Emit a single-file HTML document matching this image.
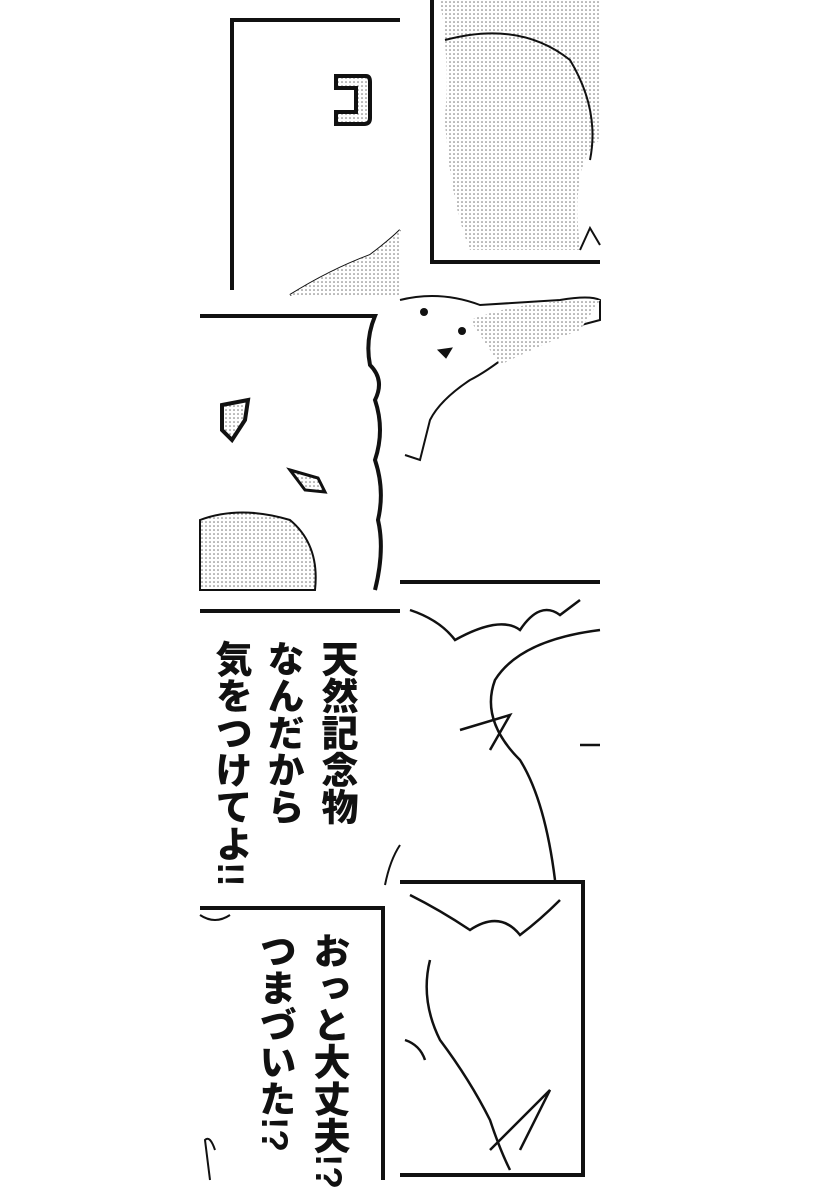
<!DOCTYPE html>
<html><head><meta charset="utf-8"><style>
html,body{margin:0;padding:0;background:#fff}
body{width:820px;height:1200px;position:relative;overflow:hidden}
svg{position:absolute;left:0;top:0}
.v{position:absolute;writing-mode:vertical-rl;font-family:"Liberation Sans","Noto Sans CJK JP",sans-serif;font-weight:900;font-size:37px;line-height:1;color:#111;letter-spacing:0px}
</style></head><body>
<svg width="820" height="1200" viewBox="0 0 820 1200">
<defs>
<pattern id="dot" width="4" height="4" patternUnits="userSpaceOnUse"><rect width="4" height="4" fill="#fff"/><circle cx="2" cy="2" r="0.75" fill="#666"/></pattern>
</defs>
<g fill="none" stroke="#111" stroke-width="4">
<!-- row1 left -->
<path d="M400 20 L232 20 L232 290"/>
<path d="M290 295 Q330 270 370 255 Q390 240 400 230" stroke-width="2"/>
<path d="M290 295 Q330 270 370 255 Q390 240 400 230 L400 295 Z" fill="url(#dot)" stroke="none"/>
<path d="M336 76 L366 76 Q370 76 370 82 L370 118 Q370 124 364 124 L336 124 L336 112 L356 112 L356 88 L336 88 Z" fill="url(#dot)" stroke-width="4"/>
<!-- row1 right -->
<path d="M432 0 L432 262 L600 262"/>
<path d="M440 0 Q450 60 445 120 Q450 200 470 250 L580 250 Q570 160 600 140 L600 0 Z" fill="url(#dot)" stroke="none"/>
<path d="M445 40 Q520 20 570 60 Q600 110 590 160" stroke-width="2"/>
<path d="M580 250 L590 228 L600 245" stroke-width="2"/>
<!-- row2 left -->
<path d="M200 316 L375 316 Q365 340 370 365 Q385 380 375 400 Q385 430 375 460 Q385 490 378 520 Q385 550 375 590"/>
<path d="M200 520 Q240 505 290 520 Q320 545 315 590 L200 590 Z" fill="url(#dot)" stroke-width="2"/>
<path d="M222 405 L248 400 L245 420 L232 440 L222 430 Z" fill="url(#dot)" stroke-width="4"/>
<path d="M290 470 L318 478 L325 492 L305 490 Z" fill="url(#dot)" stroke-width="3"/>
<!-- row2 right -->
<path d="M400 300 Q440 290 480 305 L560 300 Q590 295 600 300 L600 320 Q560 330 520 345 Q490 370 470 380 Q440 400 430 420 L420 460 L405 455" stroke-width="2"/>
<path d="M470 320 Q520 300 600 300 L580 330 Q540 345 500 365 Z" fill="url(#dot)" stroke="none"/>
<circle cx="424" cy="312" r="4" fill="#111" stroke="none"/>
<circle cx="462" cy="331" r="4" fill="#111" stroke="none"/>
<path d="M438 350 L452 348 L446 358 Z" fill="#111" stroke-width="1"/>
<!-- row3 left -->
<path d="M200 611 L400 611"/>
<path d="M385 885 Q390 860 400 845" stroke-width="2"/>
<!-- row3 right -->
<path d="M400 582 L600 582"/>
<path d="M410 610 Q440 620 455 640 Q500 615 520 630 Q540 600 560 615 L580 600" stroke-width="2.5"/>
<path d="M600 630 Q520 640 495 680 Q480 720 520 760 Q545 800 555 880" stroke-width="2.5"/>
<path d="M460 730 L510 715 L490 750" stroke-width="2.5"/>
<path d="M600 745 L580 745" stroke-width="2.5"/>
<!-- row4 left -->
<path d="M200 908 L383 908 L383 1180"/>
<path d="M200 915 Q215 925 230 915" stroke-width="2"/>
<path d="M210 1180 L205 1140 Q210 1135 215 1150" stroke-width="2"/>
<!-- row4 right -->
<path d="M400 882 L583 882 L583 1175 L400 1175"/>
<path d="M410 895 Q440 910 470 930 Q500 910 520 935 Q540 920 560 900" stroke-width="2.5"/>
<path d="M430 960 Q420 1000 440 1040 Q470 1080 490 1120 Q500 1150 510 1170" stroke-width="2.5"/>
<path d="M490 1150 L550 1090 L520 1150" stroke-width="2.5"/>
<path d="M405 1040 Q420 1045 425 1060" stroke-width="2.5"/>
</g>
</svg>
<div class="v" style="left:318px;top:640px">天然記念物</div>
<div class="v" style="left:264px;top:640px">なんだから</div>
<div class="v" style="left:212px;top:640px">気をつけてよ!!</div>
<div class="v" style="left:310px;top:932px">おっと大丈夫!?</div>
<div class="v" style="left:256px;top:932px">つまづいた!?</div>
</body></html>
